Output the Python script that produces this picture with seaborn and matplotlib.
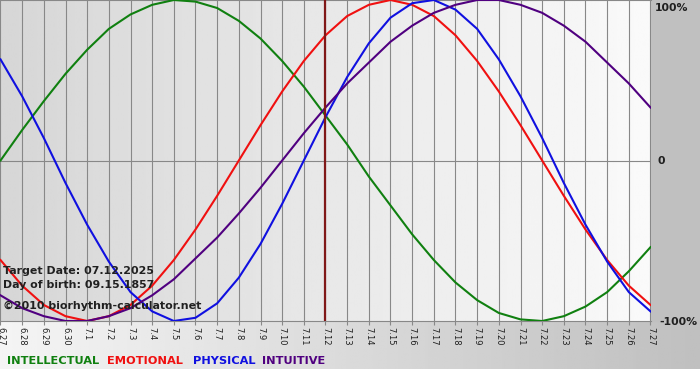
import numpy as np
import pandas as pd
import matplotlib
matplotlib.use("Agg")
import matplotlib.pyplot as plt
import seaborn as sns

# day labels along the bottom (month.day)
days = ["6.27", "6.28", "6.29", "6.30"] + [f"7.{d}" for d in range(1, 28)]

# cycle values, -1..1
physical = [0.63, 0.40, 0.14, -0.14, -0.40, -0.63, -0.82, -0.94, -1.00, -0.98,
            -0.89, -0.73, -0.52, -0.27, 0.00, 0.27, 0.52, 0.73, 0.89, 0.98,
            1.00, 0.94, 0.82, 0.63, 0.40, 0.14, -0.14, -0.40, -0.63, -0.82, -0.94]
emotional = [-0.62, -0.78, -0.90, -0.97, -1.00, -0.97, -0.90, -0.78, -0.62, -0.43,
             -0.22, 0.00, 0.22, 0.43, 0.62, 0.78, 0.90, 0.97, 1.00, 0.97,
             0.90, 0.78, 0.62, 0.43, 0.22, 0.00, -0.22, -0.43, -0.62, -0.78, -0.90]
intellectual = [0.00, 0.19, 0.37, 0.54, 0.69, 0.82, 0.91, 0.97, 1.00, 0.99,
                0.95, 0.87, 0.76, 0.62, 0.46, 0.28, 0.10, -0.10, -0.28, -0.46,
                -0.62, -0.76, -0.87, -0.95, -0.99, -1.00, -0.97, -0.91, -0.82, -0.69, -0.54]
intuitive = [-0.84, -0.92, -0.97, -1.00, -1.00, -0.97, -0.92, -0.84, -0.74, -0.61,
             -0.48, -0.33, -0.17, 0.00, 0.17, 0.33, 0.48, 0.61, 0.74, 0.84,
             0.92, 0.97, 1.00, 1.00, 0.97, 0.92, 0.84, 0.74, 0.61, 0.48, 0.33]

target_day = "7.12"
cycle_names = ["INTELLECTUAL", "EMOTIONAL", "PHYSICAL", "INTUITIVE"]
cycle_colors = {"INTELLECTUAL": "#108010", "EMOTIONAL": "#f01010",
                "PHYSICAL": "#1010e0", "INTUITIVE": "#500080"}

# long form table for seaborn
df = pd.DataFrame({
    "day": list(range(len(days))) * 4,
    "value": intellectual + emotional + physical + intuitive,
    "cycle": np.repeat(cycle_names, len(days)),
})

W, H = 700, 380
fig = plt.figure(figsize=(W / 100, H / 100), dpi=100)

# background panels (pixel coordinates)
bg = fig.add_axes([0, 0, 1, 1], zorder=0)
bg.axis("off")
px_right, px_bottom = 651, 321
grad = np.linspace(0.84, 0.98, 256)[None, :]
bg.imshow(grad, cmap="gray", vmin=0, vmax=1, aspect="auto",
          extent=(0, px_right, px_bottom, 0))
bg.add_patch(plt.Rectangle((px_right, 0), W - px_right, px_bottom, color="#c0c0c0"))
grad2 = np.linspace(0.96, 0.75, 256)[None, :]
bg.imshow(grad2, cmap="gray", vmin=0, vmax=1, aspect="auto",
          extent=(0, W, 369, px_bottom))
bg.set_xlim(0, W)
bg.set_ylim(H, 0)

ax = fig.add_axes([0, 1 - px_bottom / H, px_right / W, px_bottom / H], zorder=1)
ax.set_facecolor("none")

step = (px_right - 1) / (len(days) - 1)
ax.set_xlim(-0.5 / step, len(days) - 1 + 0.5 / step)
ax.set_ylim(-1, 1)

# grid
for i in range(len(days)):
    ax.axvline(i, color="#888888", lw=0.8, zorder=1)
ax.axhline(0, color="#888888", lw=0.8, zorder=1)

sns.lineplot(data=df, x="day", y="value", hue="cycle", hue_order=cycle_names,
             palette=cycle_colors, lw=1.5, legend=False, ax=ax, zorder=3)

ax.axvline(days.index(target_day), color="#801818", lw=1.6, zorder=4)

ax.set_xticks(range(len(days)))
ax.set_xticklabels(days, rotation=270, fontsize=6, color="#202020")
ax.tick_params(axis="x", length=3, width=0.8, color="#888888", pad=1)
ax.set_yticks([])
ax.set_xlabel("")
ax.set_ylabel("")
for s in ["left", "right"]:
    ax.spines[s].set_visible(False)
for s in ["top", "bottom"]:
    ax.spines[s].set_color("#888888")
    ax.spines[s].set_linewidth(0.8)

# percentage labels on the right
lab = dict(fontsize=7.8, fontweight="bold", color="#202020")
fig.text(655 / W, 1 - 8 / H, "100%", va="center", ha="left", **lab)
fig.text(657 / W, 1 - 161 / H, "0", va="center", ha="left", **lab)
fig.text(659 / W, 1 - 322 / H, "-100%", va="center", ha="left", **lab)

# info text
info = dict(fontsize=7.9, fontweight="bold", color="#202020", va="center", ha="left", zorder=5)
fig.text(3 / W, 1 - 271 / H, "Target Date: 07.12.2025", **info)
fig.text(3 / W, 1 - 285 / H, "Day of birth: 09.15.1857", **info)
fig.text(3 / W, 1 - 306 / H, "\u00a92010 biorhythm-calculator.net", **info)

# coloured legend words
legend_x = [7, 107, 193, 262]
for name, lx in zip(cycle_names, legend_x):
    fig.text(lx / W, 1 - 361 / H, name, fontsize=8.2, fontweight="bold",
             color=cycle_colors[name], va="center", ha="left")

fig.savefig("out.png", dpi=100)
